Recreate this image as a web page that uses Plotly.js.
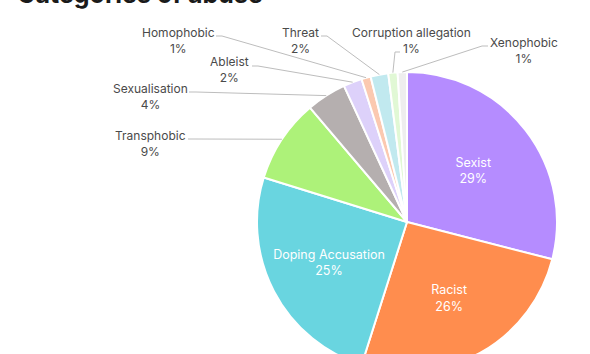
<!DOCTYPE html>
<html>
<head>
<meta charset="utf-8">
<script src="https://cdn.plot.ly/plotly-3.0.1.min.js"></script>
<style>
html,body{margin:0;padding:0;overflow:hidden;background:#fff;width:590px;height:354px;}
#chart{position:absolute;left:0;top:-30px;width:590px;height:450px;}
</style>
</head>
<body>
<div id="chart"></div>
<script>
// ---- data ----
const categories = ["Sexist","Racist","Doping Accusation","Transphobic","Sexualisation","Ableist","Homophobic","Threat","Corruption allegation","Xenophobic"];
const shares = [29.0, 25.9, 24.9, 9.0, 4.3, 2.0, 1.0, 1.9, 1.0, 1.0];
const insideLabelled = ["Sexist","Racist","Doping Accusation"];
const sliceColors = ["#b58cff","#ff8d4e","#69d5e0","#adf279","#b5afaf","#ddd1fa","#fbc9b0","#c1e9ef","#e1f8d5","#eeeeee"];

// ---- layout geometry (page pixels) ----
const W = 590, H = 450, OFF = 30;          // plot size and vertical page offset
const CX = 407, CY = 222, R = 150;         // pie centre / radius on the page
const px2x = p => p / W;
const py2y = p => (H - (p + OFF)) / H;

// outside label placement (page pixels): text centre, first line y, leader start & elbow
const outside = {
  "Transphobic":           {cx:150,   y1:136, sx:188, sy:139, ex:195, ey:139},
  "Sexualisation":         {cx:150,   y1:89,  sx:189, sy:92,  ex:196, ey:92},
  "Ableist":               {cx:229.5, y1:62,  sx:252, sy:66,  ex:258, ey:66},
  "Homophobic":            {cx:178,   y1:33,  sx:216, sy:36,  ex:222, ey:36},
  "Threat":                {cx:300,   y1:33,  sx:321, sy:36,  ex:327, ey:36},
  "Corruption allegation": {cx:411,   y1:33,  sx:400, sy:52,  ex:395, ey:52},
  "Xenophobic":            {cx:524,   y1:43,  sx:488, sy:46,  ex:482, ey:46}
};

const total = shares.reduce((a,b)=>a+b,0);
const annotations = [];
const shapes = [];
let cum = 0;
categories.forEach((c,i)=>{
  const mid = (cum + shares[i]/2) / total;
  cum += shares[i];
  const o = outside[c];
  if(!o) return;
  const ang = mid * 2 * Math.PI;
  const tx = CX + R * Math.sin(ang), ty = CY - R * Math.cos(ang);
  const pct = Math.round(shares[i] / total * 100) + "%";
  annotations.push({
    xref:"paper", yref:"paper", x:px2x(o.cx), y:py2y(o.y1 + 7.5),
    xanchor:"center", yanchor:"middle", align:"center", showarrow:false,
    text: c + "<br>" + pct,
    font:{family:"Inter, 'Open Sans', sans-serif", size:12, color:"#4a4a4a"}
  });
  shapes.push({
    type:"path", xref:"paper", yref:"paper",
    path:`M ${px2x(o.sx)} ${py2y(o.sy)} L ${px2x(o.ex)} ${py2y(o.ey)} L ${px2x(tx)} ${py2y(ty)}`,
    line:{color:"#bdbdbd", width:1}
  });
});

const trace = {
  type:"pie",
  labels: categories,
  values: shares,
  sort:false,
  direction:"clockwise",
  rotation:0,
  marker:{colors:sliceColors, line:{color:"#ffffff", width:2}},
  texttemplate: categories.map(c => insideLabelled.includes(c) ? "%{label}<br>%{percent:.0%}" : ""),
  textposition:"inside",
  insidetextorientation:"horizontal",
  textfont:{family:"Inter, 'Open Sans', sans-serif", size:12.5, color:"#ffffff"},
  hoverinfo:"label+percent",
  domain:{x:[px2x(CX-R), px2x(CX+R)], y:[py2y(CY+R), py2y(CY-R)]}
};

const layout = {
  width:W, height:H,
  margin:{l:0, r:0, t:0, b:0},
  paper_bgcolor:"#ffffff",
  showlegend:false,
  title:{
    text:"<b>Categories of abuse</b>",
    x:px2x(17), xanchor:"left", xref:"paper",
    y:py2y(3), yanchor:"bottom", yref:"paper",
    font:{family:"Inter, 'Open Sans', sans-serif", size:25, color:"#1a1a1a"}
  },
  annotations: annotations,
  shapes: shapes
};

Plotly.newPlot("chart", [trace], layout, {displayModeBar:false, staticPlot:true});
</script>
</body>
</html>
